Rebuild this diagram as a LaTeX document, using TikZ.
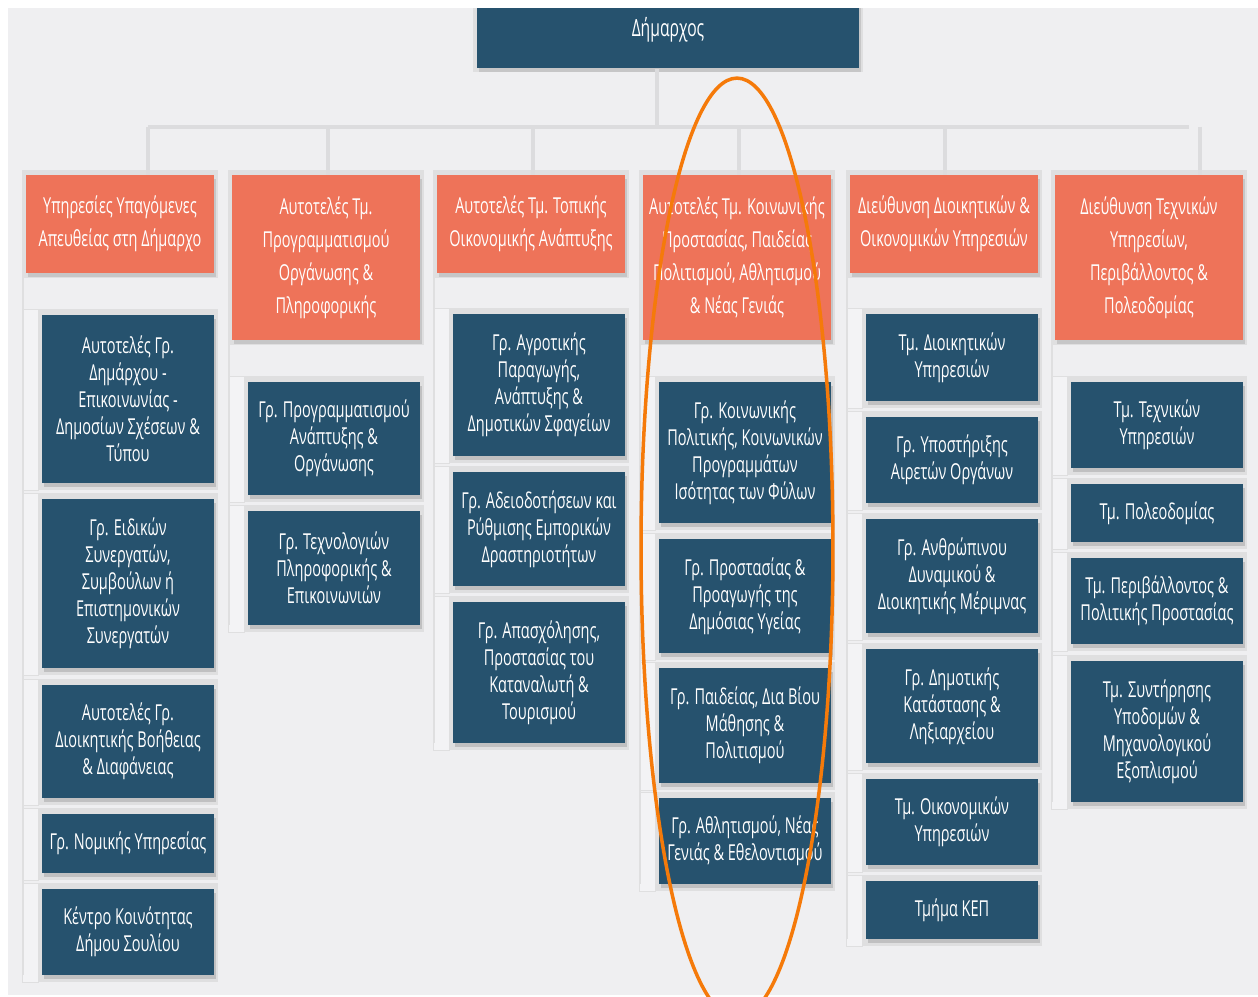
\documentclass[tikz,border=0pt]{standalone}
\usepackage{fontspec}
\setmainfont[FakeStretch=0.66]{Open Sans}
\usetikzlibrary{shadows}
\definecolor{dimosblue}{RGB}{38,82,110}
\definecolor{dimosorange}{RGB}{238,115,89}
\definecolor{pagegray}{RGB}{239,239,241}
\definecolor{framegray}{RGB}{223,223,224}
\definecolor{stripgray}{RGB}{243,243,245}
\definecolor{linegray}{RGB}{220,220,222}
\definecolor{ringorange}{RGB}{245,122,10}

% header box with its frame: name, left, top, bottom, text
\newcommand{\kefali}[5]{%
  \fill[framegray] ({#2-4},{#3-5}) rectangle ({#2+192},{#4+5});
  \node[head, minimum height={(#4-#3)*0.02cm}] (#1) at ({#2+94},{(#3+#4)/2}) {#5};
}
% child box with its row frame: name, left, top, bottom, text
\newcommand{\omada}[5]{%
  \fill[framegray] ({#2-20},{#3-6}) rectangle ({#2+176},{#4+7});
  \filldraw[fill=stripgray, draw=framegray] ({#2-20},{#3-6}) rectangle ({#2-4},{#4+7});
  \node[kid, minimum height={(#4-#3)*0.02cm}] (#1) at ({#2+86},{(#3+#4)/2}) {#5};
}

\begin{document}
\begin{tikzpicture}[
    x=0.02cm, y=-0.02cm,
    chief/.style={rectangle, fill=dimosblue, text=white, minimum width=7.64cm, minimum height=1.54cm, inner sep=0pt, font=\fontsize{13.5}{16}\selectfont, drop shadow={shadow xshift=0.04cm, shadow yshift=-0.08cm, opacity=0.2, fill=black!60}},
    head/.style={rectangle, fill=dimosorange, text=white, minimum width=3.76cm, align=center, inner sep=0pt, font=\fontsize{12.5}{18.8}\selectfont, drop shadow={shadow xshift=0.04cm, shadow yshift=-0.08cm, opacity=0.2, fill=black!60}},
    kid/.style={rectangle, fill=dimosblue, text=white, minimum width=3.44cm, align=center, inner sep=0pt, font=\fontsize{12.5}{15.4}\selectfont, drop shadow={shadow xshift=0.04cm, shadow yshift=-0.08cm, opacity=0.25, fill=black!60}},
    bus/.style={draw=linegray, line width=0.08cm},
    lane/.style={draw=framegray, line width=0.04cm},
    ring/.style={draw=ringorange, line width=0.07cm}
]
    \useasboundingbox (0,0) rectangle (1258,997);
    \clip (0,0) rectangle (1258,997);
    \fill[pagegray] (0,0) rectangle (1258,997);

    % Mayor
    \fill[framegray] (473,-10) rectangle (863,72);
    \node[chief] (dimarchos) at (668,30) {Δήμαρχος};

    % Headers
    \kefali{h1}{26}{175}{273}{Υπηρεσίες Υπαγόμενες\\Απευθείας στη Δήμαρχο}
    \kefali{h2}{232}{175}{340}{Αυτοτελές Τμ.\\Προγραμματισμού\\Οργάνωσης \&\\Πληροφορικής}
    \kefali{h3}{437}{175}{273}{Αυτοτελές Τμ. Τοπικής\\Οικονομικής Ανάπτυξης}
    \kefali{h4}{643}{175}{340}{Αυτοτελές Τμ. Κοινωνικής\\Προστασίας, Παιδείας\\Πολιτισμού, Αθλητισμού\\\& Νέας Γενιάς}
    \kefali{h5}{850}{175}{273}{Διεύθυνση Διοικητικών \&\\Οικονομικών Υπηρεσιών}
    \kefali{h6}{1055}{175}{340}{Διεύθυνση Τεχνικών\\Υπηρεσίων,\\Περιβάλλοντος \&\\Πολεοδομίας}

    % Bus lines
    \coordinate (bus) at (657,127);
    \coordinate (busL) at (148,127);
    \coordinate (busR) at (1189,127);
    \draw[bus] (dimarchos.south -| bus) -- (bus);
    \draw[bus] (busL) -- (busR);
    \foreach \i/\x in {1/148, 2/328, 3/533, 4/739, 5/945, 6/1200} {
        \coordinate (d\i) at (\x,127);
        \draw[bus] (d\i) -- (d\i |- h\i.north);
    }

    % Column 1
    \omada{c11}{42}{315}{483}{Αυτοτελές Γρ.\\Δημάρχου -\\Επικοινωνίας -\\Δημοσίων Σχέσεων \&\\Τύπου}
    \omada{c12}{42}{499}{668}{Γρ. Ειδικών\\Συνεργατών,\\Συμβούλων ή\\Επιστημονικών\\Συνεργατών}
    \omada{c13}{42}{685}{798}{Αυτοτελές Γρ.\\Διοικητικής Βοήθειας\\\& Διαφάνειας}
    \omada{c14}{42}{814}{873}{Γρ. Νομικής Υπηρεσίας}
    \omada{c15}{42}{889}{975}{Κέντρο Κοινότητας\\Δήμου Σουλίου}

    % Column 2
    \omada{c21}{248}{382}{495}{Γρ. Προγραμματισμού\\Ανάπτυξης \&\\Οργάνωσης}
    \omada{c22}{248}{511}{625}{Γρ. Τεχνολογιών\\Πληροφορικής \&\\Επικοινωνιών}

    % Column 3
    \omada{c31}{453}{314}{456}{Γρ. Αγροτικής\\Παραγωγής,\\Ανάπτυξης \&\\Δημοτικών Σφαγείων}
    \omada{c32}{453}{472}{586}{Γρ. Αδειοδοτήσεων και\\Ρύθμισης Εμπορικών\\Δραστηριοτήτων}
    \omada{c33}{453}{602}{743}{Γρ. Απασχόλησης,\\Προστασίας του\\Καταναλωτή \&\\Τουρισμού}

    % Column 4
    \omada{c41}{659}{382}{523}{Γρ. Κοινωνικής\\Πολιτικής, Κοινωνικών\\Προγραμμάτων\\Ισότητας των Φύλων}
    \omada{c42}{659}{539}{653}{Γρ. Προστασίας \&\\Προαγωγής της\\Δημόσιας Υγείας}
    \omada{c43}{659}{668}{783}{Γρ. Παιδείας, Δια Βίου\\Μάθησης \&\\Πολιτισμού}
    \omada{c44}{659}{798}{884}{Γρ. Αθλητισμού, Νέας\\Γενιάς \& Εθελοντισμού}

    % Column 5
    \omada{c51}{866}{314}{401}{Τμ. Διοικητικών\\Υπηρεσιών}
    \omada{c52}{866}{417}{503}{Γρ. Υποστήριξης\\Αιρετών Οργάνων}
    \omada{c53}{866}{519}{633}{Γρ. Ανθρώπινου\\Δυναμικού \&\\Διοικητικής Μέριμνας}
    \omada{c54}{866}{649}{763}{Γρ. Δημοτικής\\Κατάστασης \&\\Ληξιαρχείου}
    \omada{c55}{866}{779}{865}{Τμ. Οικονομικών\\Υπηρεσιών}
    \omada{c56}{866}{881}{939}{Τμήμα ΚΕΠ}

    % Column 6
    \omada{c61}{1071}{382}{468}{Τμ. Τεχνικών\\Υπηρεσιών}
    \omada{c62}{1071}{484}{542}{Τμ. Πολεοδομίας}
    \omada{c63}{1071}{558}{644}{Τμ. Περιβάλλοντος \&\\Πολιτικής Προστασίας}
    \omada{c64}{1071}{661}{802}{Τμ. Συντήρησης\\Υποδομών \&\\Μηχανολογικού\\Εξοπλισμού}

    % Lanes down each column
    \foreach \i/\last in {1/c15, 2/c22, 3/c33, 4/c44, 5/c56, 6/c64} {
        \coordinate (l\i) at ([xshift=-0.06cm]h\i.south west);
        \draw[lane] (l\i) -- (l\i |- \last.south);
    }

    % White margins
    \fill[white] (0,0) rectangle (1258,8);
    \fill[white] (0,0) rectangle (8,997);
    \fill[white] (0,995) rectangle (1258,997);

    % Highlight
    \draw[ring] (737,548) ellipse [x radius=1.92cm, y radius=9.4cm];
\end{tikzpicture}
\end{document}
